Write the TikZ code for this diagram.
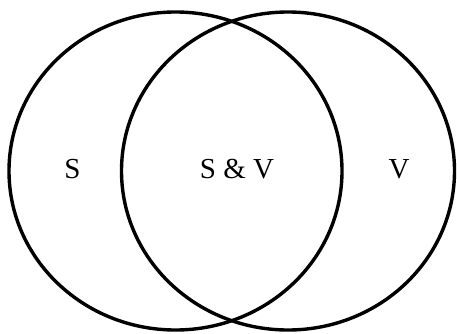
\documentclass[tikz,border=0pt]{standalone}
\usepackage{fontspec}
\setmainfont{Liberation Serif}
\begin{document}
\begin{tikzpicture}[x=1pt,y=-1pt,
  setring/.style={draw=black,line width=3.4pt},
  lbl/.style={font=\fontsize{29}{32}\selectfont,anchor=base,inner sep=0pt}]
\useasboundingbox (0,0) rectangle (457,334);
\draw[setring] (175.5,171) ellipse [x radius=166.5, y radius=159];
\draw[setring] (288,171) ellipse [x radius=166.5, y radius=159];
\node[lbl] (s) at (72.5,178) {S};
\node[lbl] (sv) at (237,178) {S \& V};
\node[lbl] (v) at (399,178) {V};
\end{tikzpicture}
\end{document}
